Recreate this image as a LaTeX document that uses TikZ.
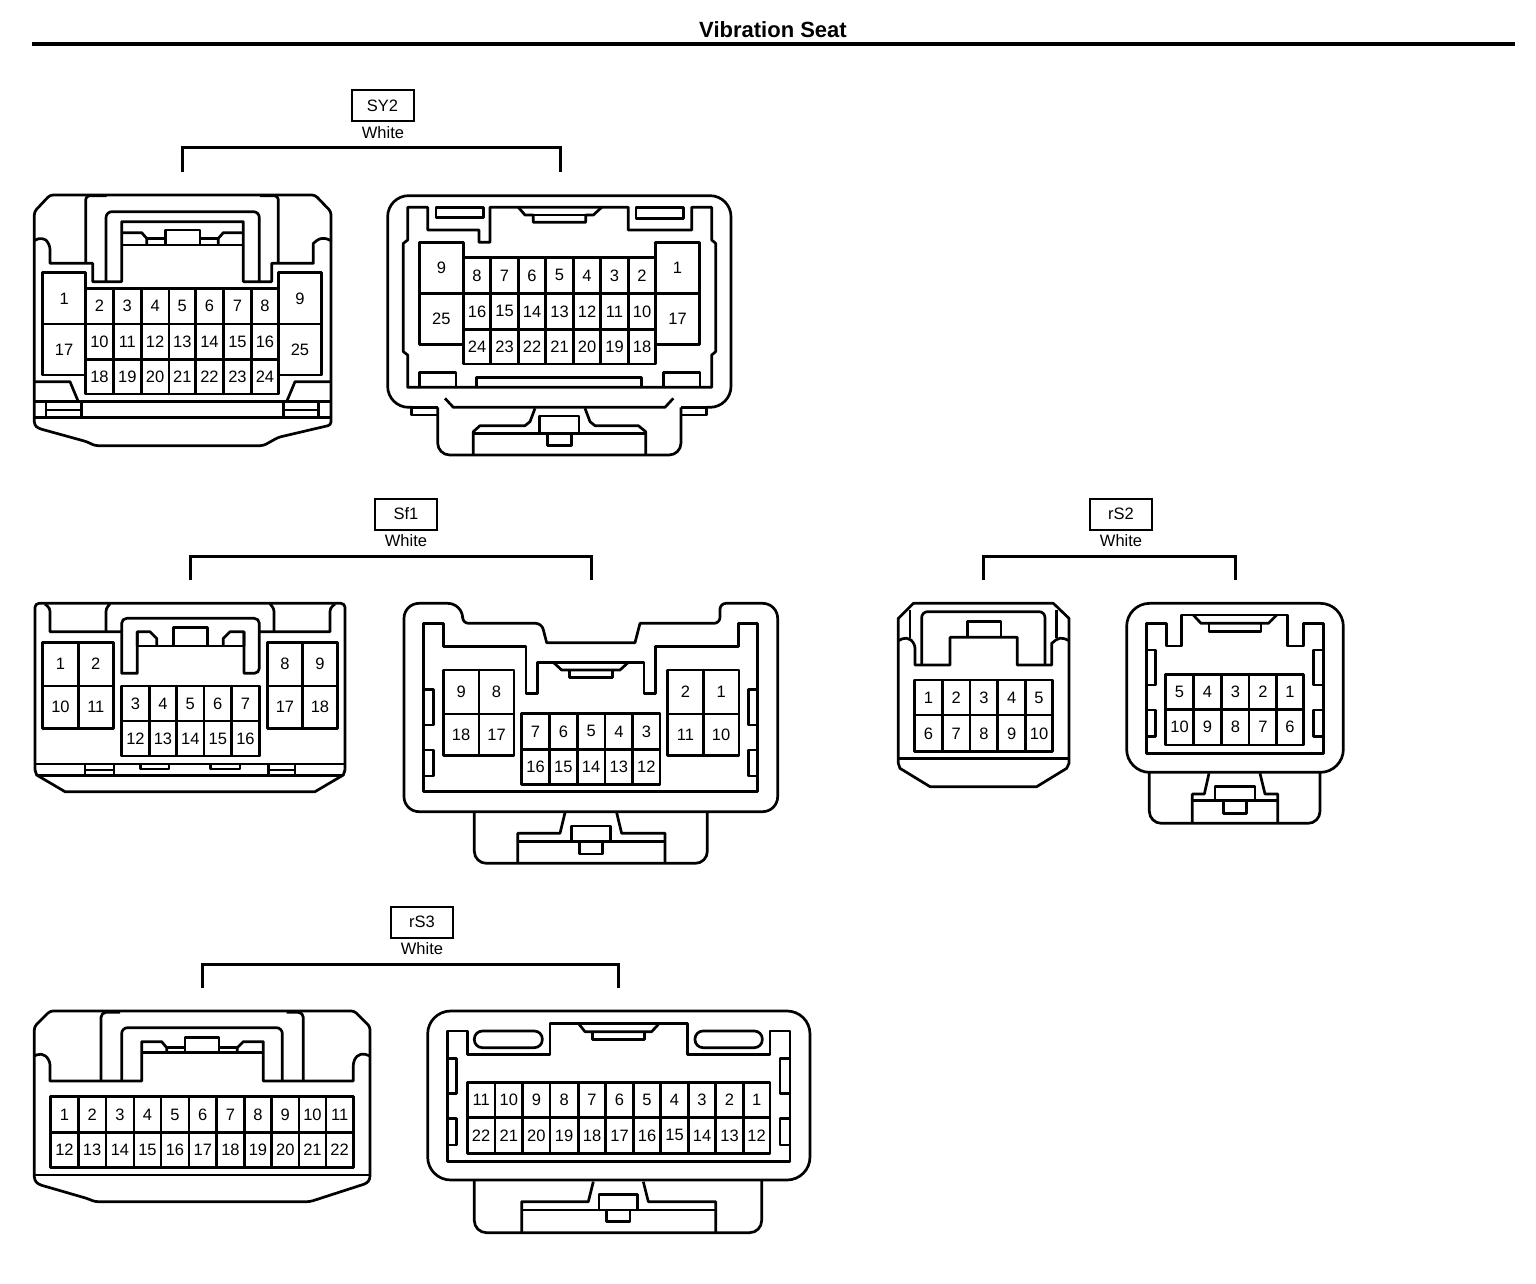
\documentclass[tikz,border=0pt]{standalone}
\usepackage{fontspec}
\setmainfont{Liberation Sans}
\tikzset{
  ln/.style={line width=2.7pt,line join=round,black},
  num/.style={inner sep=0pt,font=\fontsize{16.5}{18}\selectfont},
  tag/.style={draw,line width=2pt,minimum width=62pt,minimum height=31pt,inner sep=0pt,font=\fontsize{16.5}{18}\selectfont},
  colour/.style={inner sep=0pt,font=\fontsize{16.5}{18}\selectfont},
  brack/.style={line width=3pt,line join=miter},
  zoomed/.style={x=0.33333pt,y=-0.33333pt}
}
% prefix, y1, y2, x0, list of xright/text
\newcommand{\pinrow}[5]{%
  \foreach \xb/\t [remember=\xb as \xa (initially #4)] in {#5}{%
    \draw[ln] (\xa,#2) rectangle (\xb,#3);
    \node[num] (#1-\t) at ({(\xa+\xb)/2},{(#2+#3)/2}) {\t};
  }%
}
\begin{document}
\begin{tikzpicture}[x=1pt,y=-1pt]
\useasboundingbox (0,0) rectangle (1536,1284);
\fill[white] (0,0) rectangle (1536,1284);

% title
\node[inner sep=0pt,font=\fontsize{22}{24}\selectfont\bfseries] (title) at (773,30) {Vibration Seat};
\coordinate (ruleL) at (32,44.5);
\coordinate (ruleR) at (1515,44.5);
\draw[line width=4pt] (ruleL) -- (ruleR);

% labels and brackets
\node[tag] (SY2) at (382.5,106) {SY2};
\node[colour] (SY2w) at (383,133) {White};
\coordinate (SY2a) at (182,172); \coordinate (SY2b) at (560,172);
\draw[brack] (SY2a) |- (371,148) -| (SY2b);

\node[tag] (Sf1) at (406,514) {Sf1};
\node[colour] (Sf1w) at (406,541) {White};
\coordinate (Sf1a) at (190,580); \coordinate (Sf1b) at (591,580);
\draw[brack] (Sf1a) |- (390,556) -| (Sf1b);

\node[tag] (rS2) at (1121,514) {rS2};
\node[colour] (rS2w) at (1121,541) {White};
\coordinate (rS2a) at (983,580); \coordinate (rS2b) at (1235,580);
\draw[brack] (rS2a) |- (1109,556) -| (rS2b);

\node[tag] (rS3) at (422,922) {rS3};
\node[colour] (rS3w) at (422,949) {White};
\coordinate (rS3a) at (202,988); \coordinate (rS3b) at (618,988);
\draw[brack] (rS3a) |- (410,964) -| (rS3b);

% ---------- SY2 left
\begin{scope}[shift={(20,180)},zoomed]
\draw[ln,rounded corners=3pt] (43,735) -- (43,95) -- (90,45) -- (885,45) -- (933,95) -- (933,735) -- (775,772) -- (730,797) -- (225,797) -- (200,785) -- (55,745) -- cycle;
\draw[ln,rounded corners=4pt] (197,250) -- (197,47) -- (260,47);
\draw[ln,rounded corners=4pt] (775,250) -- (775,47) -- (720,47);
\draw[ln,rounded corners=6pt] (43,182) -- (65,170) -- (90,190) [sharp corners] -- (90,250) -- (218,250) -- (218,305) -- (305,305) -- (305,125) -- (670,125) -- (670,305) -- (755,305) -- (755,250) -- (880,250) -- (880,190) [rounded corners=6pt] -- (905,170) -- (933,182);
\draw[ln,rounded corners=6pt] (258,305) -- (258,95) -- (718,95) -- (718,305);
\draw[ln] (305,158) -- (365,158) -- (380,175) -- (380,195);
\draw[ln] (670,158) -- (610,158) -- (595,175) -- (595,195);
\draw[ln] (305,195) -- (670,195);
\draw[ln] (437,195) -- (437,150) -- (540,150) -- (540,195);
\draw[ln] (380,175) -- (437,175) (540,175) -- (595,175);
\draw[ln] (43,605) -- (150,605) -- (175,665);
\draw[ln] (933,605) -- (825,605) -- (800,665);
\draw[ln] (43,665) -- (933,665) (43,712) -- (933,712);
\draw[ln] (78,665) -- (78,712) (185,665) -- (185,712) (78,690) -- (185,690);
\draw[ln] (790,665) -- (790,712) (895,665) -- (895,712) (790,690) -- (895,690);
\pinrow{a}{278}{432}{68}{197/1}
\pinrow{a}{432}{585}{68}{197/17}
\pinrow{a}{278}{432}{775}{905/9}
\pinrow{a}{432}{585}{775}{905/25}
\pinrow{a}{325}{432}{197}{280/2,364/3,447/4,527/5,610/6,695/7,775/8}
\pinrow{a}{432}{538}{197}{280/10,364/11,447/12,527/13,610/14,695/15,775/16}
\pinrow{a}{538}{642}{197}{280/18,364/19,447/20,527/21,610/22,695/23,775/24}
\end{scope}

% ---------- SY2 right
\begin{scope}[shift={(375,180)},zoomed]
\draw[ln,rounded corners=21pt] (110,682) -- (38,682) -- (38,47) -- (1068,47) -- (1068,682) -- (995,682);
\draw[ln] (110,682) -- (110,705) -- (188,705);
\draw[ln] (995,682) -- (995,705) -- (918,705);
\draw[ln] (108,682) -- (188,682) (918,682) -- (997,682);
\draw[ln,rounded corners=12pt] (188,682) -- (188,825) -- (918,825) -- (918,682);
\draw[ln] (210,655) -- (235,682) -- (870,682) -- (895,655);
\draw[ln] (98,622) -- (98,525) -- (85,515) -- (85,190) -- (98,180) -- (98,82) -- (158,82) -- (158,150) -- (312,150) -- (312,187) -- (345,187) -- (345,82) -- (760,82) -- (760,150) -- (950,150) -- (950,82) -- (1010,82) -- (1010,180) -- (1022,190) -- (1022,515) -- (1010,525) -- (1010,622) -- cycle;
\draw[ln] (430,82) -- (450,105) -- (475,105) -- (475,127) -- (632,127) -- (632,105) -- (655,105) -- (680,82);
\draw[ln] (450,105) -- (655,105);
\draw[ln] (183,82) rectangle (325,113);
\draw[ln] (783,82) rectangle (925,115);
\draw[ln] (133,622) -- (133,578) -- (243,578) -- (243,622);
\draw[ln] (305,622) -- (305,592) -- (800,592) -- (800,622);
\draw[ln] (865,622) -- (865,578) -- (975,578) -- (975,622);
\draw[ln] (480,685) -- (465,725) -- (450,737) -- (315,737) -- (295,755) -- (295,825);
\draw[ln] (630,685) -- (645,725) -- (660,737) -- (790,737) -- (812,755) -- (812,825);
\draw[ln] (295,760) -- (812,760);
\draw[ln] (493,760) -- (493,708) -- (612,708) -- (612,760);
\draw[ln] (518,760) -- (518,797) -- (590,797) -- (590,760);
\pinrow{b}{187}{340}{133}{265/9}
\pinrow{b}{340}{493}{133}{265/25}
\pinrow{b}{187}{340}{842}{973/1}
\pinrow{b}{340}{493}{842}{973/17}
\pinrow{b}{232}{340}{265}{347/8,430/7,512/6,595/5,677/4,760/3,842/2}
\pinrow{b}{340}{448}{265}{347/16,430/15,512/14,595/13,677/12,760/11,842/10}
\pinrow{b}{448}{552}{265}{347/24,430/23,512/22,595/21,677/20,760/19,842/18}
\end{scope}

% ---------- Sf1 left
\begin{scope}[shift={(20,590)},zoomed]
\draw[ln,rounded corners=4pt] (45,540) -- (45,40) -- (975,40) -- (975,540);
\draw[ln] (45,540) -- (50,555) -- (135,605) -- (885,605) -- (970,555) -- (975,540);
\draw[ln,rounded corners=3pt] (75,42) -- (90,55) [sharp corners] -- (90,125) -- (305,125);
\draw[ln,rounded corners=3pt] (945,42) -- (930,55) [sharp corners] -- (930,125) -- (718,125);
\draw[ln,rounded corners=3pt] (258,125) -- (258,55) -- (270,42);
\draw[ln,rounded corners=3pt] (762,125) -- (762,55) -- (750,42);
\draw[ln,rounded corners=5pt] (352,125) [sharp corners] -- (352,250) -- (305,250) [rounded corners=5pt] -- (305,85) -- (718,85) -- (718,250) [sharp corners] -- (672,250) -- (672,125);
\draw[ln] (352,168) -- (352,125) -- (390,125) -- (410,145) -- (410,168);
\draw[ln] (672,168) -- (672,125) -- (630,125) -- (610,145) -- (610,168);
\draw[ln] (352,168) -- (672,168);
\draw[ln] (460,168) -- (460,112) -- (563,112) -- (563,168);
\draw[ln] (45,522) -- (975,522) (50,557) -- (970,557);
\draw[ln] (195,522) -- (195,557) (282,522) -- (282,557) (195,540) -- (282,540);
\draw[ln] (745,522) -- (745,557) (825,522) -- (825,557) (745,540) -- (825,540);
\draw[ln] (362,522) -- (362,537) -- (447,537) -- (447,522);
\draw[ln] (572,522) -- (572,537) -- (660,537) -- (660,522);
\pinrow{c}{157}{288}{68}{175/1,280/2}
\pinrow{c}{288}{415}{68}{175/10,280/11}
\pinrow{c}{157}{288}{742}{848/8,952/9}
\pinrow{c}{288}{415}{742}{848/17,952/18}
\pinrow{c}{288}{393}{305}{388/3,470/4,552/5,635/6,718/7}
\pinrow{c}{393}{498}{305}{388/12,470/13,552/14,635/15,718/16}
\end{scope}

% ---------- Sf1 right
\begin{scope}[shift={(390,590)},zoomed]
\draw[ln,rounded corners=15pt] (600,665) -- (42,665) -- (42,40) -- (218,40) [rounded corners=6pt] -- (218,100) -- (455,100) [sharp corners] -- (470,158) -- (735,158) -- (750,100) [rounded corners=6pt] -- (990,100) -- (990,40) [rounded corners=15pt] -- (1163,40) -- (1163,665) -- (600,665);
\draw[ln] (100,605) -- (100,100) -- (160,100) -- (160,170) -- (408,170) -- (408,310) -- (442,310) -- (442,217) -- (762,217) -- (762,310) -- (797,310) -- (797,170) -- (1045,170) -- (1045,100) -- (1103,100) -- (1103,605) -- cycle;
\draw[ln] (490,217) -- (515,240) -- (690,240) -- (715,217);
\draw[ln] (538,240) -- (538,262) -- (668,262) -- (668,240);
\draw[ln] (100,298) -- (130,298) -- (130,405) -- (100,405);
\draw[ln] (100,480) -- (130,480) -- (130,558) -- (100,558);
\draw[ln] (1103,298) -- (1075,298) -- (1075,405) -- (1103,405);
\draw[ln] (1103,480) -- (1075,480) -- (1075,558) -- (1103,558);
\draw[ln,rounded corners=12pt] (253,665) -- (253,820) -- (952,820) -- (952,665);
\draw[ln] (525,668) -- (510,730) -- (383,730) -- (383,820);
\draw[ln] (680,668) -- (695,730) -- (825,730) -- (825,820);
\draw[ln] (383,755) -- (825,755);
\draw[ln] (545,755) -- (545,708) -- (662,708) -- (662,755);
\draw[ln] (568,755) -- (568,792) -- (638,792) -- (638,755);
\pinrow{d}{240}{372}{160}{267/9,372/8}
\pinrow{d}{372}{497}{160}{267/18,372/17}
\pinrow{d}{240}{372}{833}{940/2,1047/1}
\pinrow{d}{372}{497}{833}{940/11,1047/10}
\pinrow{d}{370}{478}{395}{478/7,562/6,645/5,728/4,810/3}
\pinrow{d}{478}{583}{395}{478/16,562/15,645/14,728/13,810/12}
\end{scope}

% ---------- rS2 left and right
\begin{scope}[shift={(885,590)},zoomed]
\draw[ln] (40,520) -- (40,85) -- (85,40) -- (505,40) -- (552,85) -- (552,520) -- (545,535) -- (455,590) -- (135,590) -- (45,535) -- cycle;
\draw[ln] (40,505) -- (552,505);
\draw[ln] (75,60) -- (75,145) (515,60) -- (515,145);
\draw[ln,rounded corners=5pt] (40,152) -- (65,140) -- (90,160) [sharp corners] -- (90,225) -- (195,225) -- (195,142) -- (397,142) -- (397,225) -- (500,225) -- (500,160) [rounded corners=5pt] -- (525,140) -- (552,152);
\draw[ln,rounded corners=6pt] (110,225) -- (110,65) -- (480,65) -- (480,225);
\draw[ln] (247,142) -- (247,95) -- (348,95) -- (348,142);
\pinrow{e}{270}{375}{88}{172/1,255/2,338/3,422/4,502/5}
\pinrow{e}{375}{485}{88}{172/6,255/7,338/8,422/9,502/10}
% right
\draw[ln,rounded corners=23pt] (725,300) -- (725,40) -- (1375,40) -- (1375,547) -- (725,547) -- cycle;
\draw[ln] (785,490) -- (785,100) -- (845,100) -- (845,168) -- (890,168) -- (890,75) -- (1208,75) -- (1208,168) -- (1255,168) -- (1255,100) -- (1315,100) -- (1315,490) -- cycle;
\draw[ln] (925,75) -- (948,100) -- (1150,100) -- (1175,75);
\draw[ln] (972,100) -- (972,125) -- (1128,125) -- (1128,100);
\draw[ln] (785,180) -- (812,180) -- (812,285) -- (785,285);
\draw[ln] (785,360) -- (812,360) -- (812,440) -- (785,440);
\draw[ln] (1315,180) -- (1285,180) -- (1285,285) -- (1315,285);
\draw[ln] (1315,360) -- (1285,360) -- (1285,440) -- (1315,440);
\draw[ln,rounded corners=12pt] (793,547) -- (793,700) -- (1305,700) -- (1305,547);
\draw[ln] (972,550) -- (958,612) -- (922,612) -- (922,700);
\draw[ln] (1125,550) -- (1140,612) -- (1178,612) -- (1178,700);
\draw[ln] (922,632) -- (1178,632);
\draw[ln] (990,632) -- (990,590) -- (1110,590) -- (1110,632);
\draw[ln] (1015,632) -- (1015,670) -- (1085,670) -- (1085,632);
\pinrow{f}{253}{358}{842}{925/5,1010/4,1092/3,1175/2,1255/1}
\pinrow{f}{358}{465}{842}{925/10,1010/9,1092/8,1175/7,1255/6}
\end{scope}

% ---------- rS3 left
\begin{scope}[shift={(20,1000)},zoomed]
\draw[ln,rounded corners=3pt] (43,540) -- (43,80) -- (90,33) -- (1003,33) -- (1050,80) -- (1050,538) -- (1040,550) -- (870,605) -- (225,605) -- (200,595) -- (55,553) -- cycle;
\draw[ln] (43,525) -- (1050,525);
\draw[ln,rounded corners=5pt] (43,168) -- (65,158) -- (90,180) [sharp corners] -- (90,243) -- (365,243) -- (365,125) -- (425,125) -- (440,143) -- (440,158);
\draw[ln,rounded corners=5pt] (1050,168) -- (1022,158) -- (1000,180) [sharp corners] -- (1000,243) -- (730,243) -- (730,125) -- (670,125) -- (652,143) -- (652,158);
\draw[ln] (365,158) -- (730,158);
\draw[ln,rounded corners=5pt] (243,243) -- (243,37) -- (300,37);
\draw[ln,rounded corners=5pt] (850,243) -- (850,37) -- (800,37);
\draw[ln,rounded corners=6pt] (305,243) -- (305,83) -- (787,83) -- (787,243);
\draw[ln] (495,158) -- (495,112) -- (597,112) -- (597,158);
\draw[ln] (440,143) -- (495,143) (597,143) -- (652,143);
\pinrow{g}{290}{397}{92}{175/1,258/2,342/3,423/4,507/5,590/6,673/7,755/8,837/9,918/10,1000/11}
\pinrow{g}{397}{503}{92}{175/12,258/13,342/14,423/15,507/16,590/17,673/18,755/19,837/20,918/21,1000/22}
\end{scope}

% ---------- rS3 right
\begin{scope}[shift={(415,1000)},zoomed]
\draw[ln,rounded corners=23pt] (38,300) -- (38,33) -- (1185,33) -- (1185,540) -- (38,540) -- cycle;
\draw[ln] (97,485) -- (97,93) -- (157,93) -- (157,163) -- (405,163) -- (405,70) -- (818,70) -- (818,163) -- (1065,163) -- (1065,93) -- (1125,93) -- (1125,485) -- cycle;
\draw[ln] (490,70) -- (510,95) -- (710,95) -- (733,70);
\draw[ln] (532,95) -- (532,118) -- (688,118) -- (688,95);
\draw[ln,rounded corners=8pt] (178,93) rectangle (382,143);
\draw[ln,rounded corners=8pt] (840,93) rectangle (1042,143);
\draw[ln] (97,175) -- (125,175) -- (125,280) -- (97,280);
\draw[ln] (97,355) -- (125,355) -- (125,435) -- (97,435);
\draw[ln] (1125,175) -- (1095,175) -- (1095,280) -- (1125,280);
\draw[ln] (1125,355) -- (1095,355) -- (1095,435) -- (1125,435);
\draw[ln,rounded corners=12pt] (178,540) -- (178,698) -- (1040,698) -- (1040,540);
\draw[ln] (535,545) -- (520,605) -- (320,605) -- (320,698);
\draw[ln] (685,545) -- (700,605) -- (902,605) -- (902,698);
\draw[ln] (320,630) -- (902,630);
\draw[ln] (552,630) -- (552,583) -- (668,583) -- (668,630);
\draw[ln] (575,630) -- (575,665) -- (645,665) -- (645,630);
\pinrow{h}{247}{352}{157}{240/11,323/10,405/9,490/8,572/7,655/6,737/5,820/4,902/3,985/2,1065/1}
\pinrow{h}{352}{460}{157}{240/22,323/21,405/20,490/19,572/18,655/17,737/16,820/15,902/14,985/13,1065/12}
\end{scope}
\end{tikzpicture}
\end{document}
